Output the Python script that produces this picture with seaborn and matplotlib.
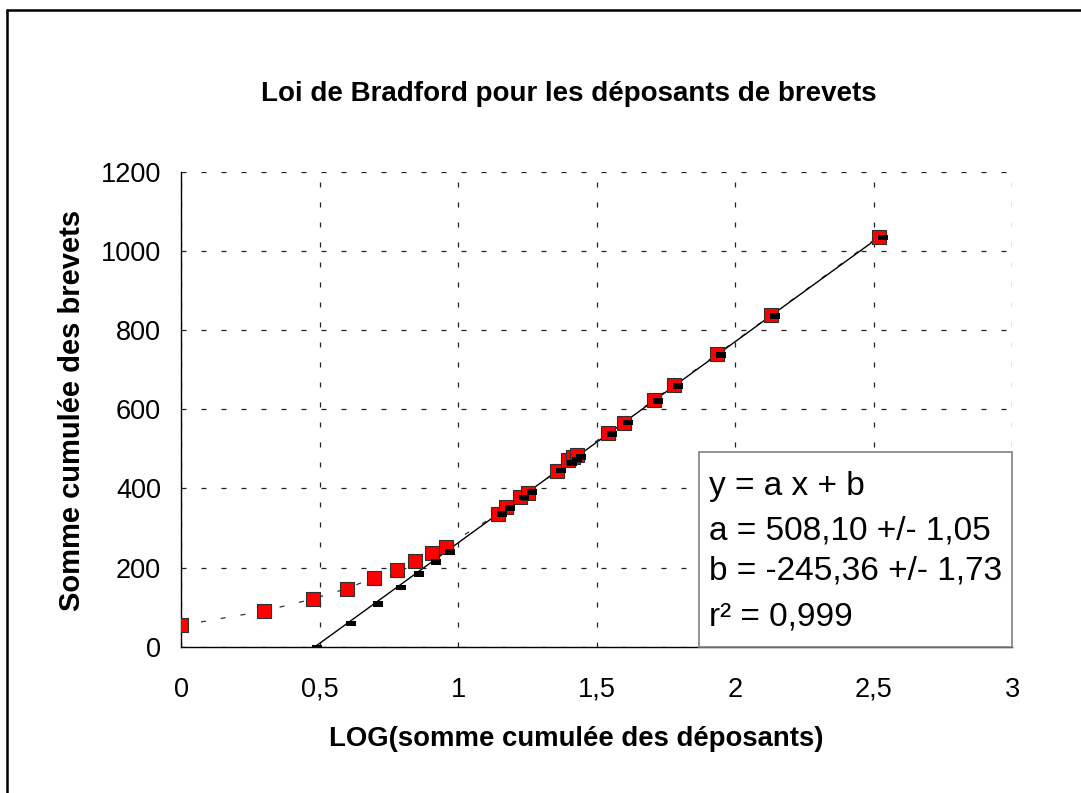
import numpy as np
import matplotlib
matplotlib.use("Agg")
import matplotlib.pyplot as plt
from matplotlib.patches import Rectangle
from matplotlib.lines import Line2D
from matplotlib.markers import MarkerStyle
from matplotlib.path import Path
from matplotlib.ticker import FixedLocator, FuncFormatter
import seaborn as sns

# Bradford data: log of cumulative number of applicants vs cumulative patents
log_cum_applicants = [0.000, 0.298, 0.477, 0.598, 0.694, 0.777, 0.844, 0.904, 0.954,
                      1.144, 1.172, 1.224, 1.253, 1.358, 1.397, 1.413, 1.427,
                      1.539, 1.597, 1.705, 1.778, 1.934, 2.128, 2.517]
cum_patents = [54, 90, 121, 147, 174, 195, 216, 237, 253,
               336, 353, 378, 388, 445, 471, 478, 485,
               539, 566, 623, 660, 739, 837, 1036]

# Linear fit y = a x + b on the linear (Bradford) zone
slope_a = 508.10
intercept_b = -245.36
fit_start = 0.477

title_text = "Loi de Bradford pour les déposants de brevets"
x_label = "LOG(somme cumulée des déposants)"
y_label = "Somme cumulée des brevets"
fit_lines = ["y = a x + b",
             "a = 508,10 +/- 1,05",
             "b = -245,36 +/- 1,73",
             "r² = 0,999"]
x_ticks = [0, 0.5, 1, 1.5, 2, 2.5, 3]
y_ticks = [0, 200, 400, 600, 800, 1000, 1200]

sns.set_theme(style="white")
plt.rcParams["font.family"] = ["Liberation Sans", "DejaVu Sans"]
plt.rcParams["lines.scale_dashes"] = False

W, H = 1081, 793
fig = plt.figure(figsize=(W / 100, H / 100), dpi=100)
fig.patch.set_facecolor("white")

# plot area in pixel coordinates
px_l, px_r, px_t, px_b = 181.3, 1012.3, 171.7, 646.7
ax = fig.add_axes([px_l / W, 1 - px_b / H, (px_r - px_l) / W, (px_b - px_t) / H])
ax.set_facecolor("white")

x = np.array(log_cum_applicants)
y = np.array(cum_patents)
fit_mask = x >= fit_start
x_fit = x[fit_mask]
y_fit = slope_a * x_fit + intercept_b

# dashed curve through the observed points
sns.lineplot(x=x, y=y, ax=ax, sort=False, estimator=None, color="#333333",
             lw=0.9, linestyle=(0, (3.6, 10.8)), zorder=2)
# regression line
sns.lineplot(x=x_fit, y=y_fit, ax=ax, sort=False, estimator=None, color="black",
             lw=1.0, zorder=3)
# observed points (red squares)
sns.scatterplot(x=x, y=y, ax=ax, marker="s", s=(13.5 * 0.72) ** 2, color="#ff0000",
                edgecolor="#303030", linewidth=0.8, zorder=4)
# fitted values (small black dashes)
dash_verts = [(-1.0, -2.8), (9.0, -2.8), (9.0, 2.8), (-1.0, 2.8), (-1.0, -2.8)]
dash_marker = MarkerStyle(Path(dash_verts, closed=True))
sns.scatterplot(x=x_fit, y=y_fit, ax=ax, marker=dash_marker, s=(18 * 0.72) ** 2,
                color="black", edgecolor="none", linewidth=0, zorder=5)

ax.set_xlim(0, 3)
ax.set_ylim(0, 1200)
ax.xaxis.set_major_locator(FixedLocator(x_ticks))
ax.yaxis.set_major_locator(FixedLocator(y_ticks))
fmt = FuncFormatter(lambda v, p: f"{v:g}".replace(".", ","))
ax.xaxis.set_major_formatter(fmt)
ax.yaxis.set_major_formatter(fmt)
ax.tick_params(axis="both", direction="inout", length=7, width=1, color="black",
               labelsize=19.5, labelcolor="black")
ax.tick_params(axis="x", pad=18)
ax.tick_params(axis="y", pad=11)
ax.grid(True, color="#222222", lw=0.9, linestyle=(0, (3.6, 10.8)))
for side in ["top", "right"]:
    ax.spines[side].set_visible(False)
for side in ["left", "bottom"]:
    ax.spines[side].set_color("black")
    ax.spines[side].set_linewidth(1.0)
ax.set_xlabel("")
ax.set_ylabel("")

# regression results box
box = Rectangle((0.623, 0.0), 0.377, 0.41, transform=ax.transAxes, facecolor="white",
                edgecolor="#808080", lw=1.2, zorder=6, clip_on=False)
ax.add_patch(box)
baselines_px = [495, 539, 579, 625]
for line, bpx in zip(fit_lines, baselines_px):
    t = ax.text((709 - px_l) / (px_r - px_l), (px_b - bpx) / (px_b - px_t), line,
                transform=ax.transAxes, fontsize=24, color="black",
                ha="left", va="baseline", zorder=7)
    t.set_clip_path(box)

# titles
fig.text(569 / W, 1 - 94 / H, title_text, ha="center", va="center",
         fontsize=20, fontweight="bold", color="black")
fig.text(576 / W, 1 - 739 / H, x_label, ha="center", va="center",
         fontsize=19.8, fontweight="bold", color="black")
fig.text(72 / W, 1 - 410 / H, y_label, ha="center", va="center", rotation=90,
         fontsize=21, fontweight="bold", color="black")

# chart area frame (top and left edges)
fig.add_artist(Line2D([7 / W, 1.0], [1 - 10 / H, 1 - 10 / H], color="black", lw=1.8,
                      transform=fig.transFigure))
fig.add_artist(Line2D([7 / W, 7 / W], [1 - 10 / H, 0.0], color="black", lw=1.8,
                      transform=fig.transFigure))

fig.savefig("out.png", dpi=100, facecolor="white")
